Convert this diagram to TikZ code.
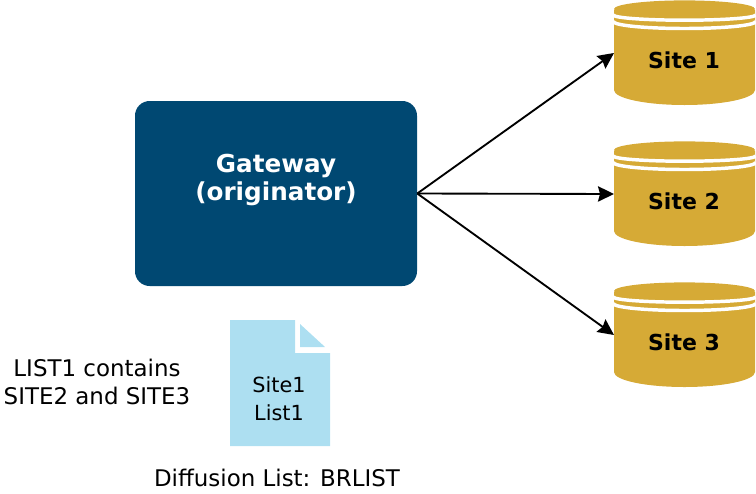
\documentclass[tikz,border=0pt]{standalone}
\usepackage{fontspec}
\setmainfont{DejaVu Sans}
\usetikzlibrary{arrows.meta}
\definecolor{gw}{HTML}{004872}
\definecolor{gold}{HTML}{D6AA36}
\definecolor{paper}{HTML}{ADDFF1}
\tikzset{
  x=0.75pt,y=-0.75pt,
  gateway/.style={draw=none,fill=gw,rounded corners=11pt,minimum width=211.5pt,minimum height=138.75pt,inner sep=0pt},
  boldwhite/.style={text=white,font=\fontsize{18.5}{21.5}\selectfont\bfseries,align=center,inner sep=0pt},
  sitelabel/.style={text=black,font=\fontsize{16.5}{18}\selectfont\bfseries,inner sep=0pt},
  plain/.style={text=black,font=\fontsize{17.2}{20.5}\selectfont,align=center,inner sep=0pt},
  doc/.style={text=black,font=\fontsize{15.6}{21}\selectfont,align=center,inner sep=0pt},
  link/.style={draw=black,line width=1.4pt,-{Stealth[length=12pt,width=11.5pt,inset=1.5pt]}},
  stripe/.style={white,line width=2.6pt},
}
\newcommand{\sitedrum}[3]{%
  \fill[gold] (614,#1+10) -- (614,#1+90) arc[start angle=180,end angle=0,x radius=70.5,y radius=15] -- (755,#1+10) -- cycle;
  \draw[stripe] (613.5,#1+15) arc[start angle=180,end angle=0,x radius=71,y radius=5.2];
  \draw[stripe] (613.5,#1+21.5) arc[start angle=180,end angle=0,x radius=71,y radius=7];
  \fill[gold] (684.5,#1+9) ellipse[x radius=70.5,y radius=8.6];
  \node[sitelabel] (#2) at (684,#1+60.5) {#3};
  \coordinate (#2in) at (614,#1+53);
}
\begin{document}
\begin{tikzpicture}
\useasboundingbox (0,0) rectangle (756,493);
\node[gateway] (gate) at (276,193.5) {};
\node[boldwhite] (gatetext) at (276,180) {Gateway\\(originator)};
\sitedrum{0}{siteA}{Site 1}
\sitedrum{141}{siteB}{Site 2}
\sitedrum{282}{siteC}{Site 3}
\draw[link] (gate.east) -- (siteAin);
\draw[link] (gate.east) -- (siteBin);
\draw[link] (gate.east) -- (siteCin);
\fill[paper] (230,320) -- (295,320) -- (295,353) -- (330,353) -- (330,446) -- (230,446) -- cycle;
\fill[paper] (300,324) -- (300,347) -- (325,347) -- cycle;
\node[doc] (doctext) at (279,399) {Site1\\List1};
\node[plain] (note) at (97,382) {LIST1 contains\\SITE2 and SITE3};
\node[plain] (caption) at (277,478) {Diffusion List: BRLIST};
\end{tikzpicture}
\end{document}
